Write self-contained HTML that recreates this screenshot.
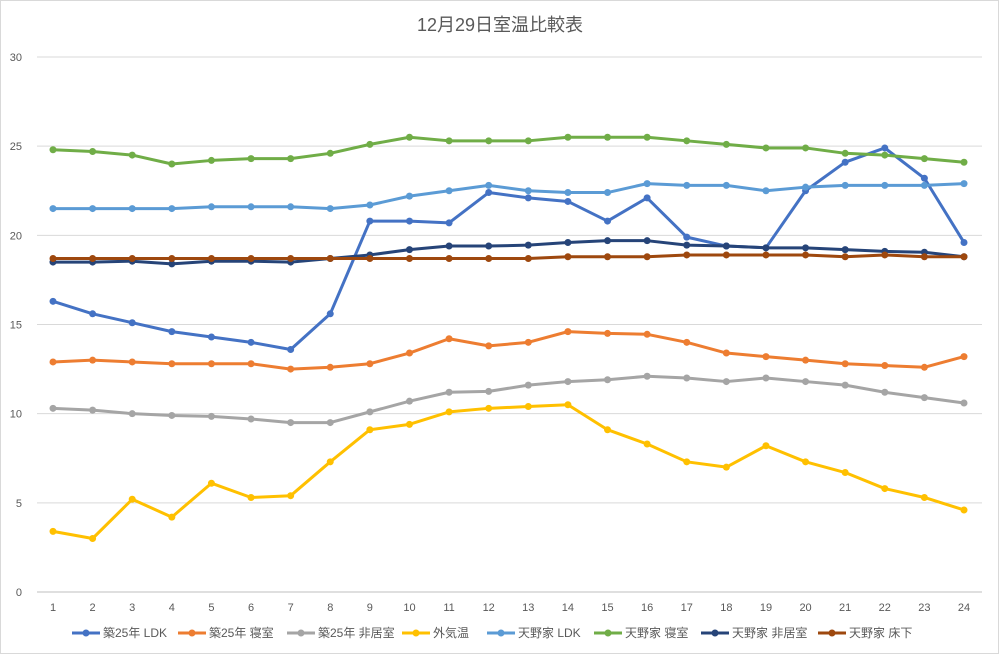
<!DOCTYPE html>
<html><head><meta charset="utf-8"><style>
body{margin:0;background:#fff;}
svg{display:block;font-family:"Liberation Sans","Noto Sans CJK JP",sans-serif;}
</style></head><body>
<svg id="chart" width="999" height="654" viewBox="0 0 999 654">
<rect x="0.5" y="0.5" width="998" height="653" fill="#fff" stroke="#d9d9d9"/>
<text x="500" y="31" text-anchor="middle" font-size="18" fill="#595959">12月29日室温比較表</text>
<g id="grid"></g><g id="series"></g><g id="legend"></g>
</svg>
<script>
const categories=[1,2,3,4,5,6,7,8,9,10,11,12,13,14,15,16,17,18,19,20,21,22,23,24];
const yTicks=[0,5,10,15,20,25,30];
const seriesNames=["築25年 LDK","築25年 寝室","築25年 非居室","外気温","天野家 LDK","天野家 寝室","天野家 非居室","天野家 床下"];
const seriesColors=["#4472c4","#ed7d31","#a5a5a5","#ffc000","#5b9bd5","#70ad47","#264478","#9e480e"];
const s1=[16.3,15.6,15.1,14.6,14.3,14.0,13.6,15.6,20.8,20.8,20.7,22.4,22.1,21.9,20.8,22.1,19.9,19.4,19.3,22.5,24.1,24.9,23.2,19.6];
const s2=[12.9,13.0,12.9,12.8,12.8,12.8,12.5,12.6,12.8,13.4,14.2,13.8,14.0,14.6,14.5,14.45,14.0,13.4,13.2,13.0,12.8,12.7,12.6,13.2];
const s3=[10.3,10.2,10.0,9.9,9.85,9.7,9.5,9.5,10.1,10.7,11.2,11.25,11.6,11.8,11.9,12.1,12.0,11.8,12.0,11.8,11.6,11.2,10.9,10.6];
const s4=[3.4,3.0,5.2,4.2,6.1,5.3,5.4,7.3,9.1,9.4,10.1,10.3,10.4,10.5,9.1,8.3,7.3,7.0,8.2,7.3,6.7,5.8,5.3,4.6];
const s5=[21.5,21.5,21.5,21.5,21.6,21.6,21.6,21.5,21.7,22.2,22.5,22.8,22.5,22.4,22.4,22.9,22.8,22.8,22.5,22.7,22.8,22.8,22.8,22.9];
const s6=[24.8,24.7,24.5,24.0,24.2,24.3,24.3,24.6,25.1,25.5,25.3,25.3,25.3,25.5,25.5,25.5,25.3,25.1,24.9,24.9,24.6,24.5,24.3,24.1];
const s7=[18.5,18.5,18.55,18.4,18.55,18.55,18.5,18.7,18.9,19.2,19.4,19.4,19.45,19.6,19.7,19.7,19.45,19.4,19.3,19.3,19.2,19.1,19.05,18.8];
const s8=[18.7,18.7,18.7,18.7,18.7,18.7,18.7,18.7,18.7,18.7,18.7,18.7,18.7,18.8,18.8,18.8,18.9,18.9,18.9,18.9,18.8,18.9,18.8,18.8];
const allSeries=[s1,s2,s3,s4,s5,s6,s7,s8];
const NS="http://www.w3.org/2000/svg";
const X0=53,X1=964,Y0=592,Y1=57,YMAX=30;
function xs(i){return X0+(X1-X0)*i/(categories.length-1);}
function ys(v){return Y0-(Y0-Y1)*v/YMAX;}
function mk(t,a,p){const e=document.createElementNS(NS,t);for(const k in a)e.setAttribute(k,a[k]);p.appendChild(e);return e;}
const grid=document.getElementById('grid');
yTicks.forEach(t=>{
 const l=mk('line',{x1:37,x2:982,y1:ys(t),y2:ys(t),stroke:t===0?'#bfbfbf':'#d9d9d9','stroke-width':1},grid);
 
 
 const tx=mk('text',{x:22,y:ys(t)+4,'text-anchor':'end','font-size':11,fill:'#595959'},grid);
 tx.textContent=t;
 
 
});
categories.forEach((c,i)=>{
 const tx=mk('text',{x:xs(i),y:611,'text-anchor':'middle','font-size':11,fill:'#595959'},grid);
 tx.textContent=c;
 
 
});
const sg=document.getElementById('series');
allSeries.forEach((d,k)=>{
 const g=mk('g',{},sg);
 
 
 const pl=mk('polyline',{points:d.map((v,i)=>xs(i)+','+ys(v)).join(' '),fill:'none',stroke:seriesColors[k],'stroke-width':3,'stroke-linejoin':'round'},g);
 
 
 d.forEach((v,i)=>{
  const c=mk('circle',{cx:xs(i),cy:ys(v),r:3.5,fill:seriesColors[k]},g);
  
  
 });
});
const lg=document.getElementById('legend');
const lx=[72,178,287,402,487,594,701,818];
seriesNames.forEach((n,k)=>{
 const g=mk('g',{},lg);
 
 
 mk('line',{x1:lx[k],x2:lx[k]+28,y1:633,y2:633,stroke:seriesColors[k],'stroke-width':3},g);
 mk('circle',{cx:lx[k]+14,cy:633,r:3.5,fill:seriesColors[k]},g);
 const t=mk('text',{x:lx[k]+31,y:637,'font-size':12,fill:'#595959'},g);
 t.textContent=n;
});
</script>
</body></html>
